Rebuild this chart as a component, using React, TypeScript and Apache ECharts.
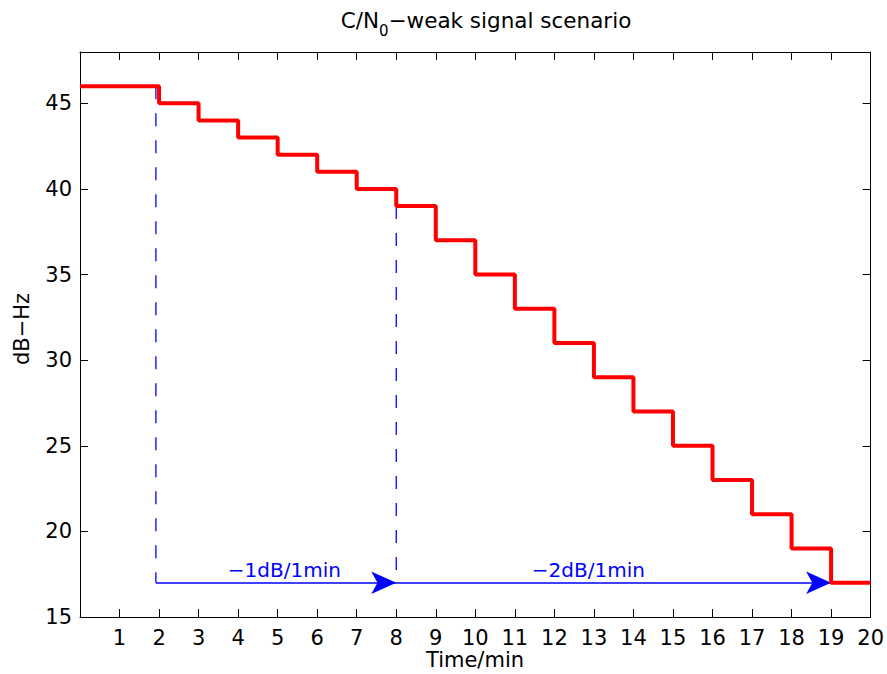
import React, { useEffect, useRef } from "react";
import * as echarts from "echarts";

// Step profile: C/N0 level (dB-Hz) starting at each minute
const minutes = [0, 2, 3, 4, 5, 6, 7, 8, 9, 10, 11, 12, 13, 14, 15, 16, 17, 18, 19, 20];
const levels = [46, 45, 44, 43, 42, 41, 40, 39, 37, 35, 33, 31, 29, 27, 25, 23, 21, 19, 17, 17];

// Annotations
const arrowStartX = [1.92, 8];
const arrowEndX = [8, 19];
const arrowY = 17;
const dashedX = [1.92, 8];
const dashedTopY = [46, 39];
const rateLabels = ["\u22121dB/1min", "\u22122dB/1min"];
const rateLabelX = [5.17, 12.86];
const rateLabelY = 17.75;

const xTicks = { min: 0, max: 20, interval: 1 };
const yTicks = { min: 15, max: 48, interval: 5 };

const FONT = "'DejaVu Sans', Arial, sans-serif";
const BLUE = "#0000ff";

export default function App() {
  const ref = useRef<HTMLDivElement>(null);

  useEffect(() => {
    if (!ref.current) return;
    const chart = echarts.init(ref.current, undefined, { renderer: "svg" });

    const stepData = minutes.map((m, i) => [m, levels[i]]);
    const arrowStyle = { color: BLUE, width: 1.5, type: "solid", opacity: 1 };
    const arrowLines = arrowStartX.map((x, i) => [
      { coord: [x, arrowY], lineStyle: arrowStyle },
      { coord: [arrowEndX[i], arrowY], lineStyle: arrowStyle },
    ]);
    const labelData = rateLabels.map((t, i) => ({ value: [rateLabelX[i], rateLabelY], name: t }));

    const dashedSeries = dashedX.map((x, i) => ({
      type: "line",
      data: [
        [x, dashedTopY[i]],
        [x, arrowY],
      ],
      xAxisIndex: 0,
      yAxisIndex: 0,
      symbol: "none",
      silent: true,
      z: 1,
      lineStyle: { color: BLUE, width: 1.3, type: [13, 14], opacity: 1 },
      itemStyle: { color: BLUE },
    }));

    const axisLine = { show: true, onZero: false, lineStyle: { color: "#000", width: 1 } };
    const axisTick = { show: true, inside: true, length: 8, lineStyle: { color: "#000", width: 1 } };

    chart.setOption({
      animation: false,
      backgroundColor: "#fff",
      grid: { left: 80, right: 14, top: 52, bottom: 57 },
      xAxis: [
        {
          type: "value",
          position: "bottom",
          ...xTicks,
          axisLine,
          axisTick,
          splitLine: { show: false },
          axisLabel: {
            color: "#000",
            fontSize: 21,
            fontFamily: FONT,
            margin: 10,
            formatter: (v: number) => (v === 0 ? "" : String(v)),
          },
        },
        {
          type: "value",
          position: "top",
          ...xTicks,
          axisLine,
          axisTick,
          splitLine: { show: false },
          axisLabel: { show: false },
        },
      ],
      yAxis: [
        {
          type: "value",
          position: "left",
          ...yTicks,
          axisLine,
          axisTick,
          splitLine: { show: false },
          axisLabel: {
            color: "#000",
            fontSize: 21,
            fontFamily: FONT,
            margin: 8,
            formatter: (v: number) => (v % 5 === 0 ? String(v) : ""),
          },
        },
        {
          type: "value",
          position: "right",
          ...yTicks,
          axisLine,
          axisTick,
          splitLine: { show: false },
          axisLabel: { show: false },
        },
      ],
      graphic: [
        {
          type: "text",
          x: 486,
          y: 20,
          style: {
            text: "{n|C/N}{s|0}{n|\u2212weak signal scenario}",
            align: "center",
            verticalAlign: "middle",
            fill: "#000",
            rich: {
              n: { fontSize: 21.5, fontFamily: FONT, lineHeight: 24, fill: "#000" },
              s: { fontSize: 15, fontFamily: FONT, lineHeight: 36, verticalAlign: "bottom", fill: "#000" },
            },
          },
        },
        {
          type: "text",
          x: 475,
          y: 660,
          style: {
            text: "Time/min",
            align: "center",
            verticalAlign: "middle",
            fontSize: 21,
            fontFamily: FONT,
            fill: "#000",
          },
        },
        {
          type: "text",
          x: 22,
          y: 329,
          rotation: Math.PI / 2,
          style: {
            text: "dB\u2212Hz",
            align: "center",
            verticalAlign: "middle",
            fontSize: 21,
            fontFamily: FONT,
            fill: "#000",
          },
        },
      ],
      series: [
        ...dashedSeries,
        {
          type: "line",
          step: "end",
          data: stepData,
          xAxisIndex: 0,
          yAxisIndex: 0,
          symbol: "none",
          lineStyle: { color: "#ff0000", width: 4 },
          z: 5,
        },
        {
          type: "scatter",
          data: labelData,
          xAxisIndex: 0,
          yAxisIndex: 0,
          symbolSize: 0,
          silent: true,
          itemStyle: { opacity: 1, color: BLUE },
          label: {
            show: true,
            position: "inside",
            formatter: (p: any) => p.name,
            color: BLUE,
            opacity: 1,
            fontSize: 20,
            fontFamily: FONT,
          },
          z: 2,
          markLine: {
            silent: true,
            symbol: ["none", "arrow"],
            symbolSize: [17, 25],
            label: { show: false },
            lineStyle: arrowStyle,
            itemStyle: { color: BLUE, opacity: 1 },
            data: arrowLines,
          },
        },
      ],
    });

    return () => chart.dispose();
  }, []);

  return (
    <div
      ref={ref}
      style={{ position: "fixed", left: 0, top: 0, width: 887, height: 674, background: "#fff" }}
    />
  );
}
